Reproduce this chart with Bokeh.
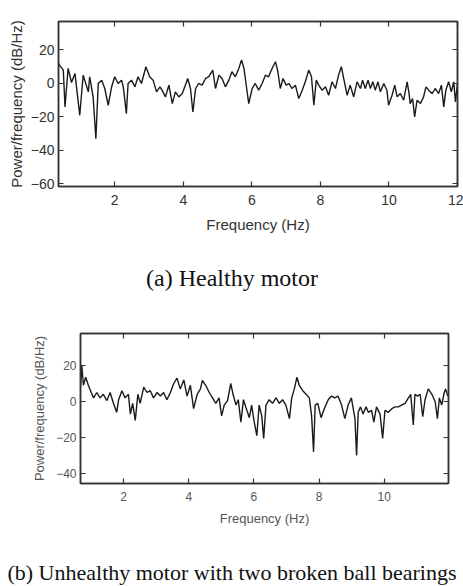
from bokeh.plotting import figure
from bokeh.models import LinearAxis, FixedTicker, Range1d, Title
from bokeh.embed import file_html
from bokeh.resources import INLINE

# ---------------- data ----------------
healthy_freq = [
    0.36, 0.40, 0.50, 0.55, 0.64, 0.74, 0.84, 0.98, 1.08, 1.23,
    1.27, 1.37, 1.45, 1.52, 1.62, 1.71, 1.81, 1.91, 2.00, 2.10,
    2.20, 2.25, 2.34, 2.39, 2.49, 2.59, 2.68, 2.78, 2.91, 3.02,
    3.12, 3.22, 3.32, 3.38, 3.48, 3.58, 3.68, 3.77, 3.87, 3.97,
    4.06, 4.13, 4.21, 4.28, 4.36, 4.45, 4.55, 4.65, 4.74, 4.86,
    4.94, 5.04, 5.13, 5.23, 5.33, 5.42, 5.52, 5.62, 5.70, 5.77,
    5.83, 5.91, 6.01, 6.10, 6.20, 6.30, 6.40, 6.49, 6.57, 6.64,
    6.69, 6.76, 6.83, 6.91, 7.00, 7.08, 7.17, 7.27, 7.37, 7.47,
    7.56, 7.66, 7.74, 7.81, 7.88, 7.95, 8.05, 8.15, 8.24, 8.34,
    8.44, 8.53, 8.61, 8.68, 8.78, 8.87, 8.97, 9.07, 9.17, 9.23,
    9.31, 9.39, 9.46, 9.53, 9.60, 9.68, 9.75, 9.85, 9.94, 9.99,
    10.09, 10.17, 10.24, 10.33, 10.43, 10.53, 10.58, 10.62, 10.69, 10.75,
    10.82, 10.92, 11.01, 11.08, 11.16, 11.26, 11.35, 11.45, 11.53, 11.60,
    11.66, 11.74, 11.82, 11.89, 11.94, 12.0,
]
healthy_power = [
    12, 10.7, 8, -14, 9, 0.6, 6, -19, 5, -5,
    4, -8, -33, 0, 2, -3, -13, -2, 4, 0,
    2, -2, -18, 0, 2, -2, 4, 0, 10, 4,
    2, -5, -2, -4, -8, -1, -12, -5, -8, -6,
    -1, 3, -3, -17, -3, 0, -1, 3, 4, 8,
    -3, 5, 3, -2, 2, 7, 4, 9, 14, 9,
    0, -12, -3, 0, -4, 0, 5, 4, 8, 11,
    13, 7, -3, 3, -1, 0, -3, -1, -9, -4,
    1, 8, 4, -13, 2, -1, -4, -2, -7, 1,
    -3, 5, 10, 3, -7, -1, -8, 1, -3, 2,
    -3, 2, -3, 1, -4, 1, -5, 0, -4, -13,
    -7, -1, -8, -6, -10, 1, -5, -12, -9, -20,
    -10, -12, -8, -2, -4, -6, -3, -6, -1, -14,
    -4, 1, -5, 1, -11, 0,
]

unhealthy_freq = [
    0.68,
    0.72, 0.77, 0.84, 0.92, 1.01, 1.08, 1.18, 1.28, 1.38, 1.49,
    1.59, 1.69, 1.79, 1.85, 1.95, 2.05, 2.15, 2.21, 2.28, 2.36,
    2.44, 2.51, 2.62, 2.72, 2.82, 2.92, 3.03, 3.13, 3.23, 3.33,
    3.44, 3.54, 3.64, 3.74, 3.85, 3.95, 4.05, 4.15, 4.26, 4.36,
    4.42, 4.52, 4.63, 4.73, 4.83, 4.93, 5.01, 5.09, 5.19, 5.29,
    5.36, 5.45, 5.52, 5.60, 5.68, 5.75, 5.86, 5.93, 6.01, 6.09,
    6.16, 6.24, 6.30, 6.37, 6.47, 6.57, 6.68, 6.78, 6.88, 6.98,
    7.09, 7.16, 7.24, 7.32, 7.39, 7.50, 7.60, 7.70, 7.77, 7.83,
    7.88, 7.96, 8.06, 8.16, 8.28, 8.38, 8.48, 8.58, 8.69, 8.79,
    8.89, 8.99, 9.10, 9.15, 9.20, 9.27, 9.35, 9.44, 9.51, 9.61,
    9.68, 9.76, 9.87, 9.95, 10.02, 10.12, 10.23, 10.33, 10.43, 10.53,
    10.64, 10.74, 10.81, 10.89, 10.94, 11.02, 11.10, 11.18, 11.25, 11.35,
    11.46, 11.56, 11.63, 11.69, 11.76, 11.84, 11.88, 11.95,
]
unhealthy_power = [
    8,
    20, 9, 13.5, 9, 5, 2, 5, 2, 4, 0.5,
    5, -1, -6, 1, 6, 2, 4, -7, -1, -10.5,
    4, -1, 8, 5, 6, 2, 5, 3, 5, 1,
    5, 10, 13, 7, 12, 3, 9, -4, 4, 7,
    11.7, 9, 5, 2, -1, 2, -8, -2, 0.5, 10,
    4, -2, 1, -11.5, 1, -3, -9, -2, -11.5, -19,
    -2, -8, -20.5, -2, 1, -1, 2, -1, 1, -2,
    -9.5, 2, 7, 13.5, 9, 6, 4, 2, -8, -28,
    -2, -1, -9, -4, 1, 3, 2, 3, -2, -9.5,
    -2, 2, -9.5, -30, -6, -3, -7, -3, -6, -5,
    -11.5, -3, -7, -20.5, -5, -6, -4, -3, -3, -2,
    -1, 2, 4, -13, 4, 3, 4, -8.5, 1, 7,
    4, 0, -9.5, 2, -2, 5, 7, 3,
]

x_ticks_a = [2, 4, 6, 8, 10, 12]
y_ticks_a = [-60, -40, -20, 0, 20]
x_ticks_b = [2, 4, 6, 8, 10]
y_ticks_b = [-40, -20, 0, 20]

x_label = "Frequency (Hz)"
y_label = "Power/frequency (dB/Hz)"
caption_a = "(a) Healthy motor"
caption_b = "(b) Unhealthy motor with two broken ball bearings"

SANS = "Liberation Sans"
SERIF = "Liberation Serif"
FRAME = "#333333"
W = 463


def style_axis(ax, ticks, tick_size="12px", text_color="#333", labels=True,
               label_size="14px", label_standoff=8, title_standoff=8):
    ax.ticker = FixedTicker(ticks=ticks)
    ax.major_tick_in = 5
    ax.major_tick_out = 0
    ax.minor_tick_line_color = None
    ax.major_tick_line_color = FRAME
    ax.major_tick_line_width = 1.2
    ax.axis_line_color = FRAME
    ax.axis_line_width = 1.5
    if labels:
        ax.major_label_text_font = SANS
        ax.major_label_text_font_size = tick_size
        ax.major_label_text_color = text_color
        ax.major_label_standoff = label_standoff
        ax.axis_label_text_font = SANS
        ax.axis_label_text_font_size = label_size
        ax.axis_label_text_font_style = "normal"
        ax.axis_label_text_color = text_color
        ax.axis_label_standoff = title_standoff
    else:
        ax.major_label_overrides = {t: "" for t in ticks}
        ax.major_label_text_font_size = "1px"
        ax.major_label_standoff = 0


def make_panel(freq, power, xr, yr, xt, yt, height, borders, tick_size,
               label_size, text_color, x_std, y_std):
    p = figure(width=W, height=height, output_backend="svg",
               toolbar_location=None, x_range=Range1d(*xr), y_range=Range1d(*yr),
               min_border_left=borders[0], min_border_right=borders[1],
               min_border_top=borders[2], min_border_bottom=borders[3])
    p.grid.grid_line_color = None
    p.outline_line_color = FRAME
    p.outline_line_width = 1.5
    p.background_fill_color = "white"
    p.border_fill_color = "white"

    p.line(freq, power, line_color="#1a1a1a", line_width=1.4)

    style_axis(p.xaxis[0], xt, tick_size, text_color, label_size=label_size,
               label_standoff=x_std[0], title_standoff=x_std[1])
    p.xaxis[0].axis_label = x_label
    style_axis(p.yaxis[0], yt, tick_size, text_color, label_size=label_size,
               label_standoff=y_std[0], title_standoff=y_std[1])
    p.yaxis[0].axis_label = y_label

    top = LinearAxis()
    style_axis(top, xt, labels=False)
    p.add_layout(top, "above")
    right = LinearAxis()
    style_axis(right, yt, labels=False)
    p.add_layout(right, "right")
    return p


def make_caption(text, size, height, top_border):
    c = figure(width=W, height=height, output_backend="svg",
               toolbar_location=None, x_axis_type=None, y_axis_type=None,
               x_range=Range1d(0, 1), y_range=Range1d(0, 1),
               min_border_left=0, min_border_right=0,
               min_border_top=top_border, min_border_bottom=0)
    c.grid.grid_line_color = None
    c.outline_line_color = None
    c.background_fill_color = "white"
    c.border_fill_color = "white"
    c.title = Title(text=text, align="center", text_font=SERIF,
                    text_font_size=size, text_font_style="normal",
                    text_color="#111111", standoff=0)
    return c


# panel (a): canvas 0..250, frame 58..457 x 21..186 px
p1 = make_panel(healthy_freq, healthy_power, (0.36, 12.0), (-61.5, 37.0),
                x_ticks_a, y_ticks_a, 250, (58, 6, 21, 64),
                "14px", "15px", "#333333", (8, 8), (4, 3))
# caption (a): canvas 250..310
c1 = make_caption(caption_a, "24px", 60, 40)
# panel (b): canvas 310..533, frame 80..448 x 333..483 px
p2 = make_panel(unhealthy_freq, unhealthy_power, (0.68, 11.97), (-45.6, 37.8),
                x_ticks_b, y_ticks_b, 223, (80, 15, 23, 50),
                "12px", "13px", "#555555", (8, 7), (4, 6))
# caption (b): canvas 533..586
c2 = make_caption(caption_b, "22px", 53, 51)

open("out.html", "w").write(file_html([p1, c1, p2, c2], INLINE))
